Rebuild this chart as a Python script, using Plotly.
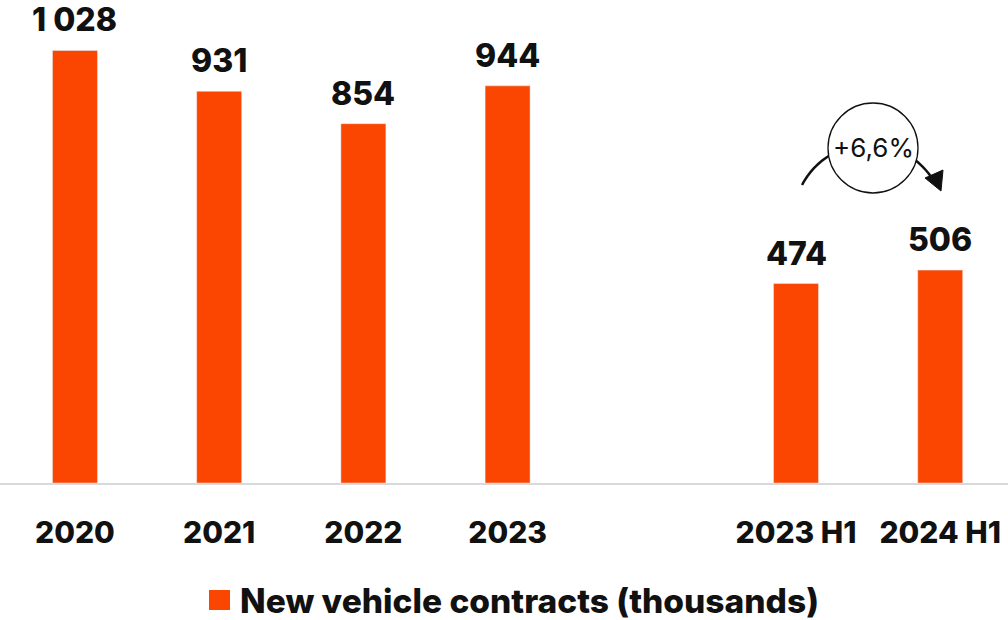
import numpy as np
import plotly.graph_objects as go

categories = ["2020", "2021", "2022", "2023", " ", "2023 H1", "2024 H1"]
values = [1028, 931, 854, 944, None, 474, 506]
value_labels = ["1 028", "931", "854", "944", "", "474", "506"]
series_name = "New vehicle contracts (thousands)"
change_label = "+6,6%"

W, H = 1008, 620
M_T, M_B = 0, 137
PLOT_H = H - M_T - M_B
BAR_COLOR = "#FA4600"
FONT = "Inter"
TXT = "#111111"

fig = go.Figure()
fig.add_trace(go.Bar(
    x=categories, y=values, marker_color=BAR_COLOR, name=series_name,
    showlegend=False, hoverinfo="skip",
))

for i, (v, t) in enumerate(zip(values, value_labels)):
    if v is None:
        continue
    fig.add_annotation(x=i, y=v, text=t, showarrow=False,
                       xanchor="center", yanchor="bottom", yshift=9,
                       font=dict(family=FONT, size=32, color=TXT, weight=800))

def px(x):
    return x / W

def py(y):
    return (M_T + PLOT_H - y) / PLOT_H

# arc arrow (decoration)
cx, cy, R = 869, 219.7, 75.4
a0 = np.arctan2(185 - cy, 802 - cx)
a1 = np.arctan2(176 - cy, 932 - cx)
angs = np.linspace(a0, a1, 60)
pts = [(cx + R * np.cos(a), cy + R * np.sin(a)) for a in angs]
path = "M " + " L ".join(f"{px(x):.5f},{py(y):.5f}" for x, y in pts)
fig.add_shape(type="path", path=path, xref="paper", yref="paper",
              line=dict(color=TXT, width=2.5))
tri = [(925, 178), (943, 170), (941, 191)]
fig.add_shape(type="path", xref="paper", yref="paper",
              path="M " + " L ".join(f"{px(x):.5f},{py(y):.5f}" for x, y in tri) + " Z",
              fillcolor=TXT, line=dict(color=TXT, width=1))
# circle
ccx, ccy, r = 873, 148, 45
fig.add_shape(type="circle", xref="paper", yref="paper",
              x0=px(ccx - r), x1=px(ccx + r), y0=py(ccy + r), y1=py(ccy - r),
              fillcolor="white", line=dict(color=TXT, width=1.3))
fig.add_annotation(xref="paper", yref="paper", x=px(ccx), y=py(ccy), text=change_label,
                   showarrow=False, xanchor="center", yanchor="middle",
                   font=dict(family=FONT, size=26, color=TXT))

# legend drawn manually
fig.add_shape(type="rect", xref="paper", yref="paper",
              x0=px(209), x1=px(230), y0=py(610), y1=py(590),
              fillcolor=BAR_COLOR, line=dict(width=0))
fig.add_annotation(xref="paper", yref="paper", x=px(238), y=py(601),
                   text=series_name, showarrow=False,
                   xanchor="left", yanchor="middle",
                   font=dict(family=FONT, size=33.5, color=TXT, weight=800))

fig.update_layout(
    width=W, height=H,
    margin=dict(l=0, r=0, t=M_T, b=M_B),
    plot_bgcolor="white", paper_bgcolor="white",
    bargap=0.688,
    showlegend=False,
    font=dict(family=FONT, color=TXT),
)
fig.update_xaxes(type="category", categoryorder="array", categoryarray=categories,
                 range=[-0.52, 6.47], showline=True, linecolor="#d9d9d9", linewidth=2,
                 showgrid=False, ticks="", ticklabelstandoff=22,
                 tickfont=dict(family=FONT, size=30, color=TXT, weight=800))
fig.update_yaxes(range=[0, 1148], visible=False, showgrid=False, zeroline=False)

fig.write_html("out.html", config={"displayModeBar": False},
               post_script="document.body.style.margin='0';document.body.style.overflow='hidden';")
